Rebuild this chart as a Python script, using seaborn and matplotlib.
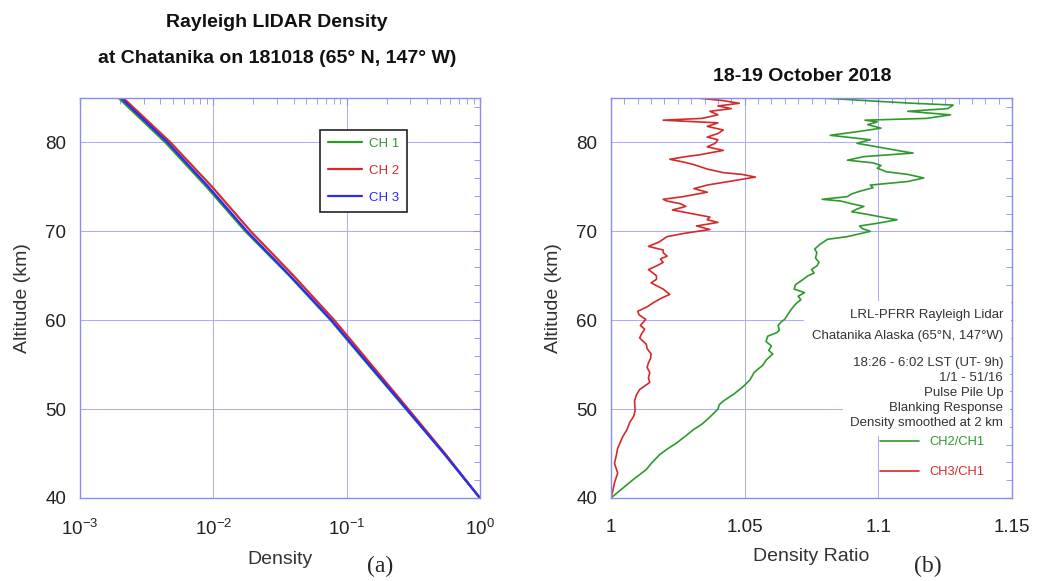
import matplotlib
matplotlib.use("Agg")
import matplotlib.pyplot as plt
import seaborn as sns
from matplotlib.ticker import MultipleLocator, LogLocator, NullFormatter

# ---- panel (a): normalised density profiles ----
alt_a = [40, 45, 50, 55, 60, 65, 70, 75, 80, 85]
ch1 = [1.0, 0.537, 0.279, 0.145, 0.0759, 0.0372, 0.0174, 0.0089, 0.00437, 0.00195]
ch2 = [1.0, 0.547, 0.290, 0.153, 0.0808, 0.0400, 0.0191, 0.0098, 0.00477, 0.00211]
ch3 = [1.0, 0.538, 0.282, 0.147, 0.0769, 0.0377, 0.0179, 0.0092, 0.00454, 0.00203]

# ---- panel (b): density ratios ----
alt_r3 = [40.0, 41.0, 41.7, 42.8, 43.9, 44.8, 45.6, 46.9, 47.7, 48.5, 49.2, 49.8, 50.9, 51.6,
          52.2, 53.0, 53.5, 54.1, 54.7, 55.2, 55.7, 56.2, 56.8, 57.3, 58.0, 58.5, 59.0, 59.4,
          60.1, 60.6, 61.0, 61.5, 62.0, 62.5, 62.9, 63.5, 64.2, 64.6, 65.0, 65.7, 66.1, 66.5,
          66.9, 67.2, 67.6, 67.9, 68.3, 68.8, 69.4, 69.8, 70.2, 70.6, 71.0, 71.3, 71.6, 72.0,
          72.4, 72.8, 73.1, 73.4, 73.6, 73.9, 74.4, 74.8, 75.2, 75.5, 75.9, 76.1, 76.4, 76.6,
          77.0, 77.5, 77.8, 78.1, 78.4, 78.6, 79.1, 79.5, 79.9, 80.3, 80.6, 81.0, 81.4, 81.8,
          82.2, 82.5, 82.7, 83.1, 83.5, 83.8, 84.1, 84.4, 84.7, 85.0]
ch3_ch1 = [1.0, 1.0008, 1.0013, 1.0025, 1.0013, 1.002, 1.0025, 1.0044, 1.006, 1.007, 1.0085,
           1.009, 1.0088, 1.0095, 1.0107, 1.0145, 1.014, 1.0145, 1.0135, 1.014, 1.0148, 1.015,
           1.0135, 1.0132, 1.0107, 1.0115, 1.0126, 1.011, 1.013, 1.0105, 1.010, 1.0135, 1.016,
           1.019, 1.022, 1.0195, 1.015, 1.017, 1.017, 1.014, 1.017, 1.0195, 1.0185, 1.021,
           1.0195, 1.0195, 1.014, 1.018, 1.021, 1.028, 1.037, 1.032, 1.040, 1.036, 1.037, 1.030,
           1.023, 1.028, 1.026, 1.021, 1.0195, 1.027, 1.036, 1.031, 1.036, 1.042, 1.050, 1.054,
           1.049, 1.042, 1.036, 1.031, 1.027, 1.022, 1.028, 1.033, 1.042, 1.036, 1.039, 1.040,
           1.036, 1.040, 1.042, 1.036, 1.040, 1.0195, 1.034, 1.040, 1.037, 1.045, 1.040, 1.048,
           1.042, 1.032]

alt_r2 = [40.0, 41.0, 42.0, 43.2, 43.9, 44.5, 44.9, 45.6, 46.2, 47.0, 47.7, 48.3, 48.8, 49.4,
          50.0, 50.5, 50.9, 51.7, 52.6, 53.3, 54.1, 54.5, 54.9, 55.5, 56.2, 56.6, 57.1, 57.6,
          58.2, 58.6, 58.9, 59.4, 59.8, 60.1, 60.6, 61.2, 61.8, 62.3, 62.7, 63.1, 63.5, 64.0,
          64.4, 65.0, 65.3, 65.7, 66.1, 66.5, 67.0, 67.6, 68.0, 68.5, 69.1, 69.4, 70.0, 70.3,
          70.6, 70.9, 71.3, 71.5, 71.9, 72.2, 72.5, 72.8, 73.1, 73.4, 73.6, 73.9, 74.2, 74.5,
          74.9, 75.2, 75.6, 76.0, 76.4, 76.7, 77.1, 77.4, 77.7, 78.0, 78.4, 78.8, 79.1, 79.5,
          79.9, 80.3, 80.6, 80.8, 81.2, 81.6, 82.0, 82.3, 82.5, 82.7, 83.1, 83.5, 83.8, 84.2,
          84.4, 84.6, 84.8, 85.0]
ch2_ch1 = [1.0, 1.004, 1.008, 1.0132, 1.0151, 1.017, 1.0183, 1.0215, 1.0246, 1.028, 1.0309,
           1.034, 1.0359, 1.038, 1.040, 1.0405, 1.042, 1.046, 1.0497, 1.052, 1.0535, 1.055,
           1.0567, 1.058, 1.0605, 1.059, 1.060, 1.058, 1.0586, 1.062, 1.063, 1.0625, 1.0636,
           1.065, 1.066, 1.0674, 1.069, 1.071, 1.070, 1.0724, 1.0685, 1.069, 1.071, 1.0737,
           1.076, 1.075, 1.077, 1.0778, 1.0765, 1.077, 1.0762, 1.078, 1.081, 1.0884, 1.097,
           1.094, 1.093, 1.0996, 1.107, 1.103, 1.096, 1.090, 1.092, 1.0946, 1.090, 1.086, 1.079,
           1.0884, 1.090, 1.093, 1.098, 1.097, 1.111, 1.117, 1.111, 1.103, 1.0996, 1.101, 1.098,
           1.0884, 1.0946, 1.113, 1.107, 1.0996, 1.092, 1.097, 1.088, 1.082, 1.092, 1.101, 1.096,
           1.0996, 1.095, 1.118, 1.127, 1.111, 1.126, 1.128, 1.113, 1.101, 1.090, 1.078]

site_lines = ["LRL-PFRR Rayleigh Lidar",
              "Chatanika Alaska (65\u00b0N, 147\u00b0W)"]
run_lines = ["18:26 - 6:02 LST (UT- 9h)",
             "1/1 - 51/16",
             "Pulse Pile Up",
             "Blanking Response",
             "Density smoothed at 2 km"]

GREEN = "#2e9a2e"
RED = "#d42a2a"
BLUE = "#2a2aff"
FRAME = "#8c8cf0"
GRID = "#aaaaff"

sns.set_style("white")
plt.rcParams["font.family"] = ["Liberation Sans", "DejaVu Sans"]
plt.rcParams["mathtext.fontset"] = "custom"
plt.rcParams["mathtext.rm"] = "Liberation Sans"
plt.rcParams["mathtext.it"] = "Liberation Sans:italic"

fig = plt.figure(figsize=(10.37, 5.81), dpi=100)
ax1 = fig.add_axes([0.0771, 0.1429, 0.3857, 0.6885])
ax2 = fig.add_axes([0.5892, 0.1429, 0.3867, 0.6885])


def style_axes(ax):
    for s in ax.spines.values():
        s.set_color(FRAME)
        s.set_linewidth(1.0)
    ax.grid(True, which="major", color=GRID, linewidth=0.7)
    ax.set_axisbelow(True)
    ax.tick_params(which="both", direction="in", top=True, right=True,
                   color=FRAME, labelsize=13.5, labelcolor="#222222")
    ax.tick_params(which="major", length=5)
    ax.tick_params(which="minor", length=4)
    ax.tick_params(axis="x", pad=15)
    ax.tick_params(axis="y", pad=10)
    ax.set_ylim(40, 85)
    ax.yaxis.set_major_locator(MultipleLocator(10))
    ax.yaxis.set_minor_locator(MultipleLocator(2))
    ax.set_ylabel("Altitude (km)", fontsize=14, color="#333333", labelpad=10)


# panel (a)
sns.lineplot(x=ch1, y=alt_a, orient="y", sort=False, ax=ax1, color=GREEN, lw=1.6, label="CH 1")
sns.lineplot(x=ch2, y=alt_a, orient="y", sort=False, ax=ax1, color=RED, lw=1.6, label="CH 2")
sns.lineplot(x=ch3, y=alt_a, orient="y", sort=False, ax=ax1, color=BLUE, lw=1.6, label="CH 3")
ax1.set_xscale("log")
ax1.set_xlim(1e-3, 1)
ax1.xaxis.set_major_locator(LogLocator(base=10, numticks=10))
ax1.xaxis.set_minor_locator(LogLocator(base=10, subs=range(2, 10), numticks=10))
ax1.xaxis.set_minor_formatter(NullFormatter())
style_axes(ax1)
ax1.set_xlabel("Density", fontsize=14, color="#333333", labelpad=9)
leg1 = ax1.legend(loc="upper left", bbox_to_anchor=(0.6, 0.92), borderaxespad=0,
                  fontsize=9.5, frameon=True, fancybox=False, edgecolor="#222222",
                  framealpha=1, handlelength=2.6, handletextpad=0.5, labelspacing=1.1,
                  borderpad=0.6, labelcolor="linecolor")
leg1.get_frame().set_linewidth(1.2)
fig.text(0.267, 0.962, "Rayleigh LIDAR Density", fontsize=14, fontweight="bold",
         ha="center", va="center", color="#111111")
fig.text(0.267, 0.900, "at Chatanika on 181018 (65\u00b0 N, 147\u00b0 W)", fontsize=14,
         fontweight="bold", ha="center", va="center", color="#111111")

# panel (b)
sns.lineplot(x=ch2_ch1, y=alt_r2, orient="y", sort=False, ax=ax2, color=GREEN, lw=1.2,
             label="CH2/CH1")
sns.lineplot(x=ch3_ch1, y=alt_r3, orient="y", sort=False, ax=ax2, color=RED, lw=1.2,
             label="CH3/CH1")
ax2.set_xlim(1.0, 1.15)
ax2.xaxis.set_major_locator(MultipleLocator(0.05))
ax2.xaxis.set_minor_locator(MultipleLocator(0.005))
ax2.set_xticks([1.0, 1.05, 1.1, 1.15])
ax2.set_xticklabels(["1", "1.05", "1.1", "1.15"])
style_axes(ax2)
ax2.set_xlabel("Density Ratio", fontsize=14, color="#333333", labelpad=9)
fig.text(0.7735, 0.8675, "18-19 October 2018", fontsize=14, fontweight="bold",
         ha="center", va="center", color="#111111")

# annotation blocks with white background hiding the grid
ax2.text(0.978, 0.431, "\n".join(site_lines), transform=ax2.transAxes, ha="right",
         va="center", multialignment="right", linespacing=2.05, fontsize=9.5,
         color="#333333", bbox=dict(facecolor="white", edgecolor="none", pad=6))
ax2.text(0.978, 0.2625, "\n".join(run_lines), transform=ax2.transAxes, ha="right",
         va="center", multialignment="right", linespacing=1.33, fontsize=9.5,
         color="#333333", bbox=dict(facecolor="white", edgecolor="none", pad=5))
leg2 = ax2.legend(loc="lower right", bbox_to_anchor=(0.96, 0.02), fontsize=9.3,
                  frameon=False, handlelength=3.0, labelspacing=1.4,
                  labelcolor="linecolor")

fig.text(0.367, 0.015, "(a)", fontsize=17, family=["Liberation Serif"], ha="center")
fig.text(0.895, 0.015, "(b)", fontsize=17, family=["Liberation Serif"], ha="center")

fig.savefig("out.png", dpi=100)
